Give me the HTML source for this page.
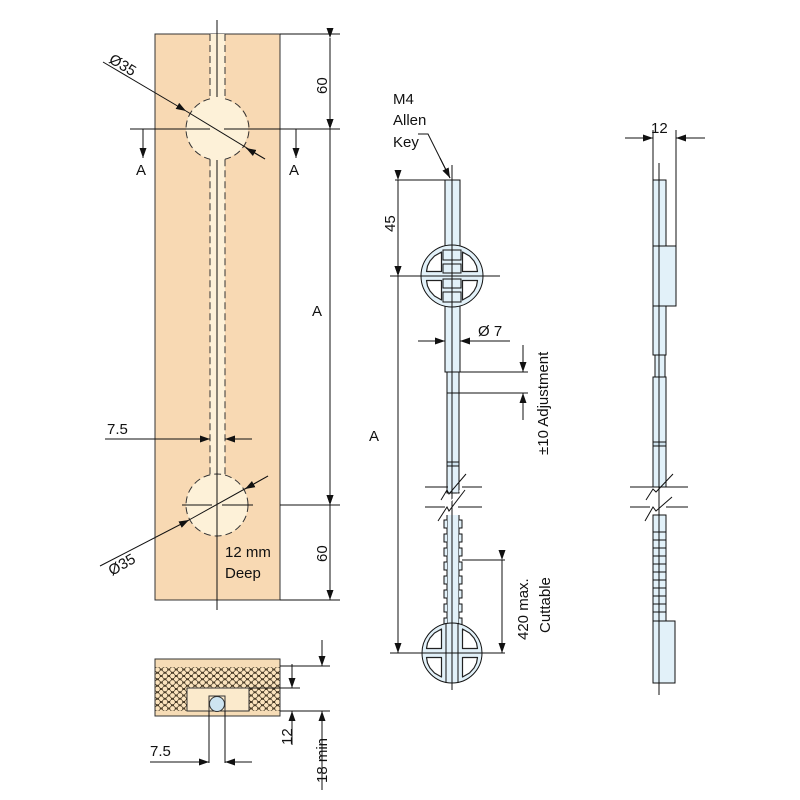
<!DOCTYPE html>
<html><head><meta charset="utf-8"><style>html,body{margin:0;padding:0;background:#fff}svg{display:block}text{font-family:"Liberation Sans",Arial,sans-serif;font-size:15px;fill:#111}</style></head>
<body>
<svg width="800" height="800" viewBox="0 0 800 800" xmlns="http://www.w3.org/2000/svg">
<defs>
<marker id="ar" viewBox="0 0 10 10" refX="10" refY="5" markerWidth="10" markerHeight="10" markerUnits="userSpaceOnUse" orient="auto"><path d="M0,1.5 L10,5 L0,8.5 Z" fill="#111"/></marker>
<pattern id="hex" width="7.5" height="6.5" patternUnits="userSpaceOnUse"><rect width="7.5" height="6.5" fill="#6a5636"/><g fill="#fbe3bd" stroke="#2e2414" stroke-width="0.6"><circle cx="3.75" cy="3.25" r="2.7"/><circle cx="0" cy="0" r="2.7"/><circle cx="7.5" cy="0" r="2.7"/><circle cx="0" cy="6.5" r="2.7"/><circle cx="7.5" cy="6.5" r="2.7"/></g></pattern>
<polygon id="win" points="10.5,-4.5 25.5,-4.5 24.5,-10 22,-15 17.5,-20 10.5,-24" fill="#fff" stroke="#222" stroke-width="1.2" stroke-linejoin="round"/>
</defs>
<g stroke="#111" stroke-width="1" fill="none">
<!-- main panel -->
<rect x="155" y="34" width="125" height="566" fill="#f8d9b3" stroke="#333"/>
<rect x="210" y="34" width="15" height="470" fill="#fdf1d8" stroke="none"/>
<circle cx="217" cy="129" r="31" fill="#fdf1d8" stroke="none"/>
<circle cx="217" cy="505" r="31" fill="#fdf1d8" stroke="none"/>
<g stroke-dasharray="7,4" stroke="#333">
<path d="M210,34 V98.8 M225,34 V98.8"/>
<path d="M210,98.8 A31,31 0 0 0 210,159.2"/>
<path d="M225,98.8 A31,31 0 0 1 225,159.2"/>
<path d="M210,159.2 V474.8 M225,159.2 V474.8"/>
<circle cx="217" cy="505" r="31"/>
</g>
<line x1="217" y1="20" x2="217" y2="97"/><line x1="217" y1="160" x2="217" y2="610"/>
<line x1="130" y1="129" x2="210" y2="129"/><line x1="224" y1="129" x2="300" y2="129"/>
<line x1="182" y1="505" x2="212" y2="505"/><line x1="222" y1="505" x2="253" y2="505"/>
<line x1="143" y1="129" x2="143" y2="158" marker-end="url(#ar)"/>
<line x1="296" y1="129" x2="296" y2="158" marker-end="url(#ar)"/>
<!-- right dims -->
<line x1="280" y1="34" x2="340" y2="34"/><line x1="280" y1="129" x2="340" y2="129"/>
<line x1="280" y1="505" x2="340" y2="505"/><line x1="280" y1="600" x2="340" y2="600"/>
<line x1="330" y1="38" x2="330" y2="129" marker-start="url(#ar)" marker-end="url(#ar)"/>
<line x1="330" y1="129" x2="330" y2="505" marker-start="url(#ar)" marker-end="url(#ar)"/>
<line x1="330" y1="505" x2="330" y2="600" marker-start="url(#ar)" marker-end="url(#ar)"/>
<!-- Ø35 leaders -->
<line x1="103" y1="62" x2="186" y2="111" marker-end="url(#ar)"/>
<line x1="186" y1="111" x2="265" y2="159"/>
<line x1="265" y1="159" x2="246" y2="148" marker-end="url(#ar)"/>
<line x1="100" y1="566" x2="189" y2="520" marker-end="url(#ar)"/>
<line x1="189" y1="520" x2="268" y2="476"/>
<line x1="268" y1="476" x2="245" y2="489" marker-end="url(#ar)"/>
<!-- 7.5 -->
<line x1="105" y1="439" x2="210" y2="439" marker-end="url(#ar)"/>
<line x1="252" y1="439" x2="225" y2="439" marker-end="url(#ar)"/>
<!-- section -->
<rect x="155" y="659" width="125" height="57" fill="#f6dcb6" stroke="#333"/>
<rect x="155.5" y="667" width="124" height="44" fill="url(#hex)" stroke="none"/>
<rect x="187" y="688" width="62" height="23" fill="#fbeacc" stroke="#333"/>
<rect x="209" y="696" width="16" height="15" fill="#fbeacc" stroke="#333"/>
<circle cx="217" cy="704" r="7.5" fill="#cde4f1" stroke="#333"/>
<line x1="209" y1="711" x2="209" y2="763"/><line x1="225" y1="711" x2="225" y2="763"/>
<line x1="150" y1="762" x2="209" y2="762" marker-end="url(#ar)"/>
<line x1="252" y1="762" x2="225" y2="762" marker-end="url(#ar)"/>
<line x1="280" y1="666" x2="330" y2="666"/><line x1="249" y1="688" x2="300" y2="688"/><line x1="280" y1="711" x2="330" y2="711"/>
<line x1="322" y1="640" x2="322" y2="666" marker-end="url(#ar)"/>
<line x1="292" y1="664" x2="292" y2="688" marker-end="url(#ar)"/>
<line x1="292" y1="745" x2="292" y2="711" marker-end="url(#ar)"/>
<line x1="322" y1="790" x2="322" y2="711" marker-end="url(#ar)"/>
<!-- middle rod -->
<line x1="452" y1="165" x2="452" y2="180"/>
<rect x="445" y="180" width="15" height="192" fill="#e2f1f9"/>
<rect x="447" y="372" width="12" height="21" fill="#e2f1f9"/>
<rect x="447" y="393" width="12" height="100" fill="#e2f1f9"/>
<rect x="447" y="462" width="12" height="4" fill="#cfe3ee"/>
<path d="M447,515 V648 H459 V515" fill="#e2f1f9"/>
<path d="M447,520 h-3 v8 h3 v6 h-3 v8 h3 v6 h-3 v8 h3 v6 h-3 v8 h3 v6 h-3 v8 h3 v6 h-3 v8 h3 v6 h-3 v8 h3 v6 h-3 v8 h3 v6 h-3 v8 h3 v6 h-3 v8 h3 v6" fill="#e2f1f9"/>
<path d="M459,520 h3 v8 h-3 v6 h3 v8 h-3 v6 h3 v8 h-3 v6 h3 v8 h-3 v6 h3 v8 h-3 v6 h3 v8 h-3 v6 h3 v8 h-3 v6 h3 v8 h-3 v6 h3 v8 h-3 v6" fill="#e2f1f9"/>
<!-- hubs -->
<g transform="translate(452,276)">
<circle r="31" fill="#e2f1f9"/>
<use href="#win"/><use href="#win" transform="scale(-1,1)"/><use href="#win" transform="scale(1,-1)"/><use href="#win" transform="scale(-1,-1)"/>
<rect x="-9" y="-26" width="18" height="10" fill="#e2f1f9"/><rect x="-9" y="-12" width="18" height="9" fill="#e2f1f9"/>
<rect x="-9" y="3" width="18" height="9" fill="#e2f1f9"/><rect x="-9" y="16" width="18" height="10" fill="#e2f1f9"/>
</g>
<g transform="translate(452,653)">
<circle r="30" fill="#e2f1f9"/>
<use href="#win"/><use href="#win" transform="scale(-1,1)"/><use href="#win" transform="scale(1,-1)"/><use href="#win" transform="scale(-1,-1)"/>
<path d="M-6,-30 V30 M6,-30 V30"/>
</g>
<line x1="452" y1="180" x2="452" y2="690"/>
<line x1="390" y1="276" x2="500" y2="276"/>
<line x1="390" y1="653" x2="505" y2="653"/>
<line x1="395" y1="180" x2="445" y2="180"/>
<line x1="398" y1="180" x2="398" y2="276" marker-start="url(#ar)" marker-end="url(#ar)"/>
<line x1="398" y1="276" x2="398" y2="653" marker-start="url(#ar)" marker-end="url(#ar)"/>
<!-- Ø7 -->
<line x1="418" y1="341" x2="445" y2="341" marker-end="url(#ar)"/>
<line x1="510" y1="341" x2="460" y2="341" marker-end="url(#ar)"/>
<!-- adjustment -->
<line x1="460" y1="372" x2="528" y2="372"/><line x1="459" y1="393" x2="528" y2="393"/>
<line x1="523" y1="345" x2="523" y2="372" marker-end="url(#ar)"/>
<line x1="523" y1="420" x2="523" y2="393" marker-end="url(#ar)"/>
<!-- break -->
<polygon points="434,520 447,499 449,505 468,478 461,496 459,491" fill="#fff" stroke="none"/>
<path d="M425,487 H448 M462,487 H482 M425,507 H445 M458,507 H482"/>
<path d="M441,500 L447,490 L449,494 L466,474 M438,521 L447,507 L449,511 L465,490"/>
<!-- 420 -->
<line x1="462" y1="560" x2="505" y2="560"/>
<line x1="502" y1="560" x2="502" y2="653" marker-start="url(#ar)" marker-end="url(#ar)"/>
<!-- allen key leader -->
<path d="M418,134 H428 L450,178"/>
<line x1="440" y1="158" x2="450" y2="178" marker-end="url(#ar)"/>
<!-- right view -->
<line x1="625" y1="138" x2="653" y2="138" marker-end="url(#ar)"/>
<line x1="705" y1="138" x2="676" y2="138" marker-end="url(#ar)"/>
<line x1="653" y1="130" x2="653" y2="180"/><line x1="676" y1="130" x2="676" y2="246"/>
<rect x="653" y="180" width="13" height="66" fill="#e2f1f9"/>
<rect x="653" y="246" width="23" height="60" fill="#e2f1f9"/>
<rect x="653" y="306" width="13" height="49" fill="#e2f1f9"/>
<rect x="655" y="355" width="10" height="22" fill="#e2f1f9"/>
<rect x="653" y="377" width="13" height="110" fill="#e2f1f9"/>
<rect x="653" y="442" width="13" height="4" fill="#cfe3ee"/>
<rect x="653" y="515" width="13" height="106" fill="#e2f1f9"/>
<path d="M653,532 h13 M653,540 h13 M653,548 h13 M653,556 h13 M653,564 h13 M653,572 h13 M653,580 h13 M653,588 h13 M653,596 h13 M653,604 h13 M653,612 h13"/>
<rect x="653" y="621" width="22" height="62" fill="#e2f1f9"/>
<polygon points="645,520 653,503 660,505 673,478 667,497 660,494" fill="#fff" stroke="none"/>
<path d="M630,487 H654 M666,487 H688 M630,507 H650 M666,507 H688"/>
<path d="M646,500 L653,489 L656,492 L673,474 M645,521 L653,507 L656,511 L672,497"/>
<line x1="659" y1="163" x2="659" y2="695"/>
</g>
<!-- text -->
<text transform="translate(108,62) rotate(31)">Ø35</text>
<text transform="translate(112,576) rotate(-30)">Ø35</text>
<text x="136" y="175">A</text><text x="289" y="175">A</text>
<text transform="translate(327,94) rotate(-90)">60</text>
<text transform="translate(327,562) rotate(-90)">60</text>
<text x="312" y="316">A</text>
<text x="107" y="434">7.5</text>
<text x="225" y="557">12 mm</text><text x="225" y="578">Deep</text>
<text x="150" y="756">7.5</text>
<text transform="translate(292,745) rotate(-90)">12</text>
<text transform="translate(327,783) rotate(-90)">18 min</text>
<text x="393" y="104">M4</text><text x="393" y="125">Allen</text><text x="393" y="147">Key</text>
<text transform="translate(395,232) rotate(-90)">45</text>
<text x="369" y="441">A</text>
<text x="478" y="336">Ø 7</text>
<text transform="translate(548,455) rotate(-90)">±10 Adjustment</text>
<text transform="translate(528,640) rotate(-90)">420 max.</text>
<text transform="translate(550,633) rotate(-90)">Cuttable</text>
<text x="651" y="133">12</text>
</svg>
</body></html>
